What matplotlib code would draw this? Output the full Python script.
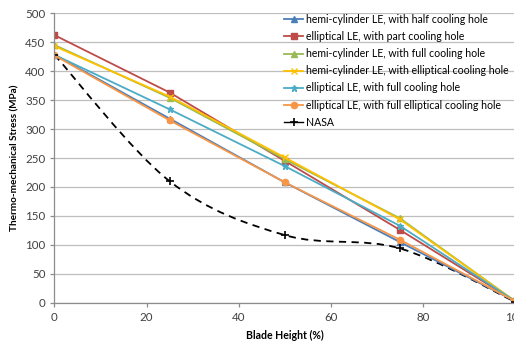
import numpy as np
import matplotlib
matplotlib.use("Agg")
import matplotlib.pyplot as plt
from matplotlib.path import Path
from matplotlib.patches import PathPatch
from matplotlib.lines import Line2D

plt.rcParams['font.family'] = ['Lato', 'DejaVu Sans']

height = [0, 25, 50, 75, 100]
half_hole = [428, 318, 208, 105, 3]
part_hole = [462, 363, 245, 126, 3]
full_hole = [445, 354, 248, 146, 3]
ell_hole = [443, 356, 251, 144, 3]
ell_full = [428, 334, 236, 133, 3]
ell_full_ell = [427, 315, 208, 109, 3]
nasa = [428, 210, 117, 94, 2]

labels = ["hemi-cylinder LE, with half cooling hole",
          "elliptical LE, with part cooling hole",
          "hemi-cylinder LE, with full cooling hole",
          "hemi-cylinder LE, with elliptical cooling hole",
          "elliptical LE, with full cooling hole",
          "elliptical LE, with full elliptical cooling hole",
          "NASA"]

series = [half_hole, part_hole, full_hole, ell_hole, ell_full, ell_full_ell]
colors = ['#4A7EBB', '#BE4B48', '#98B954', '#FFC000', '#4BACC6', '#F79646']
markers = ['^', 's', '^', 'x', '*', 'o']

fig = plt.figure(figsize=(5.14, 3.45), dpi=100)
ax = fig.add_axes([0.106, 0.122, 0.896, 0.840])

handles = []
for vals, c, m, lab in zip(series, colors, markers, labels):
    ln, = ax.plot(height, vals, color=c, marker=m, markersize=4.5, lw=1.3,
                  markeredgewidth=1.0, label=lab)
    handles.append(ln)


def smooth_path(x, y):
    # Excel style smoothed line, built as cubic bezier segments
    pts = np.column_stack([x, y]).astype(float)
    verts = [pts[0]]
    codes = [Path.MOVETO]
    n = len(pts)
    for i in range(n - 1):
        p0 = pts[i - 1] if i > 0 else pts[i]
        p1 = pts[i]
        p2 = pts[i + 1]
        p3 = pts[i + 2] if i + 2 < n else pts[i + 1]
        c1 = p1 + (p2 - p0) / 6.0
        c2 = p2 - (p3 - p1) / 6.0
        verts += [c1, c2, p2]
        codes += [Path.CURVE4] * 3
    return Path(verts, codes)


ax.add_patch(PathPatch(smooth_path(height, nasa), fill=False, edgecolor='black',
                       lw=1.3, linestyle=(0, (4, 3))))
ax.plot(height, nasa, ls='none', marker='+', color='black', markersize=6,
        markeredgewidth=1.2)
handles.append(Line2D([], [], color='black', lw=1.0, marker='+',
                      markersize=6, markeredgewidth=1.2))

ax.set_xlim(0, 100)
ax.set_ylim(0, 500)
ax.set_xticks(range(0, 101, 20))
ax.set_yticks(range(0, 501, 50))
ax.grid(axis='y', color='#BEBEBE', lw=0.9)
ax.set_axisbelow(True)
for s in ['top', 'right']:
    ax.spines[s].set_visible(False)
for s in ['left', 'bottom']:
    ax.spines[s].set_color('#8C8C8C')
    ax.spines[s].set_linewidth(0.9)
ax.tick_params(colors='#8C8C8C', labelcolor='#404040', labelsize=8.3,
               length=3, width=0.9)

ax.set_xlabel("Blade Height (%)", fontsize=7.6, fontweight='bold', labelpad=5)
ax.set_ylabel("Thermo-mechanical Stress (MPa)", fontsize=7.2, fontweight='bold',
              labelpad=4)

leg = ax.legend(handles, labels, loc='upper left',
                bbox_to_anchor=(284 / 514, 1 - 14 / 345),
                bbox_transform=fig.transFigure, frameon=False, fontsize=7.6,
                handlelength=1.8, handletextpad=0.3, labelspacing=0.58,
                borderpad=0, borderaxespad=0)

fig.savefig("out.png", dpi=100)
